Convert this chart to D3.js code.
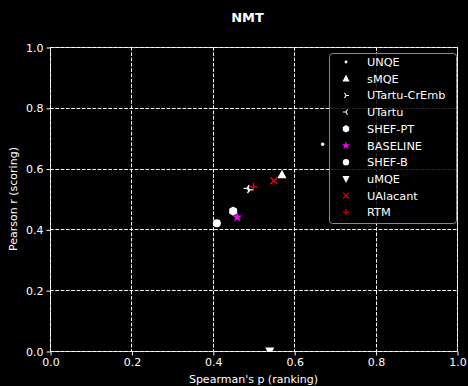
<!DOCTYPE html>
<html><head><meta charset="utf-8">
<script src="https://cdn.jsdelivr.net/npm/d3@7"></script>
<style>body{margin:0;background:#000}svg{display:block}text{font-family:"DejaVu Sans",sans-serif;fill:#fff}</style>
</head><body><svg id="c" width="468" height="386"></svg>
<script>
const systems = ["UNQE","sMQE","UTartu-CrEmb","UTartu","SHEF-PT","BASELINE","SHEF-B","uMQE","UAlacant","RTM"];
const spearman = [0.67,0.57,0.49,0.485,0.45,0.46,0.41,0.54,0.55,0.50];
const pearson  = [0.68,0.58,0.53,0.535,0.46,0.44,0.42,0.0,0.56,0.54];
const markers  = ["point","triangle","tri_right","tri_left","hexagon","star","circle","triangle_down","x","plus"];
const colors   = ["#fff","#fff","#fff","#fff","#fff","#ff00ff","#fff","#fff","#ff0000","#ff0000"];
const ticks = [0,0.2,0.4,0.6,0.8,1.0];

const svg = d3.select("#c");
svg.append("rect").attr("width",468).attr("height",386).attr("fill","#000");
const L=50,R=457,T=47,B=351;
const x = d3.scaleLinear().domain([0,1]).range([L,R]);
const y = d3.scaleLinear().domain([0,1]).range([B,T]);

const sp = svg.append("g").attr("stroke","#bbb").attr("stroke-width",1).attr("fill","none");
sp.append("rect").attr("x",L+0.5).attr("y",T+0.5).attr("width",R-L).attr("height",B-T);
const g = svg.append("g").attr("stroke","#fff").attr("stroke-width",1).attr("stroke-dasharray","3.7,1.6");
ticks.forEach(t=>{
  g.append("line").attr("x1",Math.round(x(t))+0.5).attr("x2",Math.round(x(t))+0.5).attr("y1",T).attr("y2",B);
  g.append("line").attr("y1",Math.round(y(t))+0.5).attr("y2",Math.round(y(t))+0.5).attr("x1",L).attr("x2",R);
});
const xa = svg.append("g").attr("transform",`translate(0.5,${B+0.5})`).call(d3.axisBottom(x).tickValues(ticks).tickFormat(d3.format(".1f")).tickSize(4).tickPadding(3));
const ya = svg.append("g").attr("transform",`translate(${L+0.5},0.5)`).call(d3.axisLeft(y).tickValues(ticks).tickFormat(d3.format(".1f")).tickSize(4).tickPadding(3));
[xa,ya].forEach(a=>{a.select(".domain").remove();a.selectAll("line").attr("stroke","#fff");a.selectAll("text").attr("fill","#fff").style("font-size","11px").style("font-family","DejaVu Sans");});

svg.append("text").attr("x",247.5).attr("y",22).attr("text-anchor","middle").style("font-size","13px").style("font-weight","bold").text("NMT");
svg.append("text").attr("x",(L+R)/2).attr("y",383).attr("text-anchor","middle").style("font-size","11px").text("Spearman's p (ranking)");
svg.append("text").attr("transform",`translate(17,${(T+B)/2}) rotate(-90)`).attr("text-anchor","middle").style("font-size","11px").text("Pearson r (scoring)");

function markerPath(m){
  switch(m){
    case "point": return d3.symbol(d3.symbolCircle,10)();
    case "circle": return d3.symbol(d3.symbolCircle,50)();
    case "triangle": return "M0,-5L4.5,3.5L-4.5,3.5Z";
    case "triangle_down": return "M0,5L4.5,-3.5L-4.5,-3.5Z";
    case "star": return d3.symbol(d3.symbolStar,32)();
    case "hexagon": { let p=""; for(let i=0;i<6;i++){const a=Math.PI/3*i-Math.PI/2; p+=(i?"L":"M")+(4.6*Math.cos(a)).toFixed(2)+","+(4.6*Math.sin(a)).toFixed(2);} return p+"Z"; }
    case "x": return "M-3.5,-3.5L3.5,3.5M-3.5,3.5L3.5,-3.5";
    case "plus": return "M-4,0L4,0M0,-4L0,4";
    case "tri_right": return "M0,0L3.8,0M0,0L-1.9,3.3M0,0L-1.9,-3.3";
    case "tri_left": return "M0,0L-3.8,0M0,0L1.9,3.3M0,0L1.9,-3.3";
  }
}
const stroked = m=>["x","plus","tri_right","tri_left"].includes(m);
function drawMarker(sel,i){
  const m=markers[i];
  sel.append("path").attr("d",markerPath(m))
    .attr("fill",stroked(m)?"none":colors[i])
    .attr("stroke",stroked(m)?colors[i]:"none")
    .attr("stroke-width",1.3);
}
svg.append("clipPath").attr("id","clip").append("rect").attr("x",L).attr("y",T).attr("width",R-L+1).attr("height",B-T+1);
const pts = svg.append("g").attr("clip-path","url(#clip)");
systems.forEach((s,i)=>{
  const gg=pts.append("g").attr("transform",`translate(${x(spearman[i])},${y(pearson[i])})`);
  drawMarker(gg,i);
});

const lg = svg.append("g");
lg.append("rect").attr("x",329.5).attr("y",53.5).attr("width",127).attr("height",170).attr("rx",3)
  .attr("fill","#000").attr("fill-opacity",0.85).attr("stroke","#888").attr("stroke-width",1);
systems.forEach((s,i)=>{
  const yy=62+i*16.7;
  const gg=lg.append("g").attr("transform",`translate(346,${yy}) scale(0.8)`);
  drawMarker(gg,i);
  lg.append("text").attr("x",367).attr("y",yy+4).style("font-size","11.3px").text(s);
});
</script></body></html>
